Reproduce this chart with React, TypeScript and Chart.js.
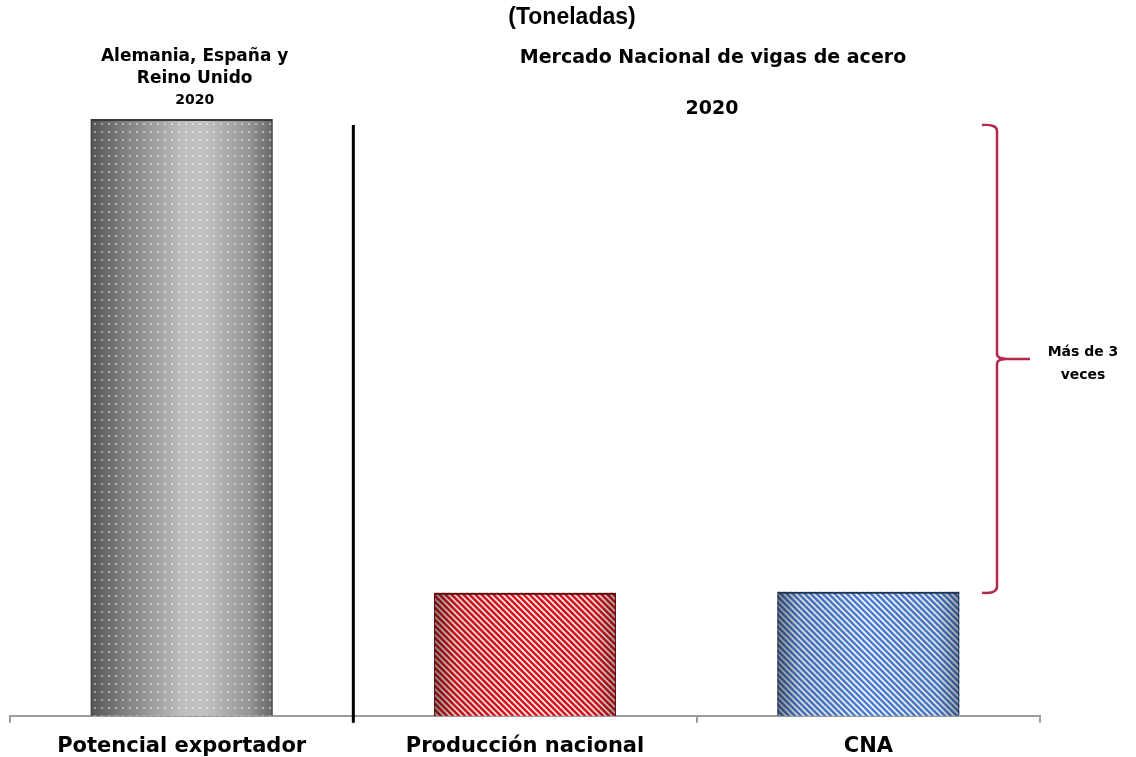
import React, { useEffect, useRef } from "react";
import { Chart, registerables } from "chart.js";

Chart.register(...registerables);

const categories = ["Potencial exportador", "Producción nacional", "CNA"];
const values = [597, 123, 124];
const unitTitle = "(Toneladas)";
const leftHeader = ["Alemania, España y", "Reino Unido", "2020"];
const rightHeader = ["Mercado Nacional de vigas de acero", "2020"];
const braceLabel = ["Más de 3", "veces"];

const FONT = "'DejaVu Sans', 'Open Sans', sans-serif";

function makeStripePattern(ctx: CanvasRenderingContext2D, r: number, g: number, b: number) {
  const s = 6;
  const c = document.createElement("canvas");
  c.width = s;
  c.height = s;
  const cx = c.getContext("2d")!;
  const img = cx.createImageData(s, s);
  for (let y = 0; y < s; y++) {
    for (let x = 0; x < s; x++) {
      const t = ((x - y) % s + s) % s;
      const w = t < 3 ? 1 : t === 3 || t === 5 ? 0.35 : 0;
      const i = (y * s + x) * 4;
      img.data[i] = Math.round(r * w + 255 * (1 - w));
      img.data[i + 1] = Math.round(g * w + 255 * (1 - w));
      img.data[i + 2] = Math.round(b * w + 255 * (1 - w));
      img.data[i + 3] = 255;
    }
  }
  cx.putImageData(img, 0, 0);
  return ctx.createPattern(c, "repeat")!;
}

function makeDotPattern(ctx: CanvasRenderingContext2D) {
  const c = document.createElement("canvas");
  c.width = 7;
  c.height = 8;
  const cx = c.getContext("2d")!;
  cx.fillStyle = "rgba(255,255,255,0.45)";
  cx.fillRect(3, 3, 2, 2);
  return ctx.createPattern(c, "repeat")!;
}

const barFillPlugin = {
  id: "barFill",
  beforeDatasetsDraw(chart: any) {
    const ctx: CanvasRenderingContext2D = chart.ctx;
    const meta = chart.getDatasetMeta(0);
    meta.data.forEach((bar: any, i: number) => {
      const { x, y, width, base } = bar.getProps(["x", "y", "width", "base"], true);
      const l = x - width / 2;
      const h = base - y;
      ctx.save();
      if (i === 0) {
        const g = ctx.createLinearGradient(l, 0, l + width, 0);
        g.addColorStop(0, "#555555");
        g.addColorStop(0.15, "#787878");
        g.addColorStop(0.5, "#bdbdbd");
        g.addColorStop(0.62, "#c2c2c2");
        g.addColorStop(0.88, "#939393");
        g.addColorStop(1, "#666666");
        ctx.fillStyle = g;
        ctx.fillRect(l, y, width, h);
        ctx.fillStyle = makeDotPattern(ctx);
        ctx.fillRect(l, y, width, h);
      } else {
        const pat = i === 1 ? makeStripePattern(ctx, 226, 20, 30) : makeStripePattern(ctx, 80, 130, 210);
        ctx.fillStyle = pat;
        ctx.fillRect(l, y, width, h);
        const g = ctx.createLinearGradient(l, 0, l + width, 0);
        g.addColorStop(0, "rgba(0,0,0,0.45)");
        g.addColorStop(0.12, "rgba(0,0,0,0.12)");
        g.addColorStop(0.5, "rgba(0,0,0,0)");
        g.addColorStop(0.88, "rgba(0,0,0,0.08)");
        g.addColorStop(1, "rgba(0,0,0,0.35)");
        ctx.fillStyle = g;
        ctx.fillRect(l, y, width, h);
      }
      ctx.restore();
    });
  },
};

const annotationsPlugin = {
  id: "annotations",
  afterDraw(chart: any) {
    const ctx: CanvasRenderingContext2D = chart.ctx;
    const xs = chart.scales.x;
    const ys = chart.scales.y;
    const area = chart.chartArea;
    ctx.save();
    ctx.textAlign = "center";
    ctx.textBaseline = "middle";
    ctx.fillStyle = "#000";

    ctx.font = "bold 23px 'Liberation Sans', Arial, sans-serif";
    ctx.fillText(unitTitle, 572, 18);

    const cx0 = xs.getPixelForValue(0);
    ctx.font = `bold 17px ${FONT}`;
    ctx.fillText(leftHeader[0], cx0 + 13, 57);
    ctx.fillText(leftHeader[1], cx0 + 13, 79);
    ctx.font = `bold 14px ${FONT}`;
    ctx.fillText(leftHeader[2], cx0 + 13, 100);

    ctx.font = `bold 19px ${FONT}`;
    ctx.fillText(rightHeader[0], 713, 58);
    ctx.fillText(rightHeader[1], 712, 109);

    // divider
    const dx = xs.getPixelForValue(0.5);
    ctx.strokeStyle = "#000";
    ctx.lineWidth = 3;
    ctx.beginPath();
    ctx.moveTo(dx, area.top + 6);
    ctx.lineTo(dx, area.bottom + 7);
    ctx.stroke();

    // brace
    const top = area.top + 6;
    const bot = ys.getPixelForValue(values[1]);
    const mid = top + (bot - top) / 2;
    const bx = 997;
    ctx.strokeStyle = "#b3294e";
    ctx.lineWidth = 2.5;
    ctx.beginPath();
    ctx.moveTo(982, top);
    ctx.quadraticCurveTo(bx, top - 1, bx, top + 6);
    ctx.lineTo(bx, mid - 4);
    ctx.quadraticCurveTo(bx + 1, mid, bx + 10, mid);
    ctx.lineTo(1030, mid);
    ctx.moveTo(bx + 10, mid);
    ctx.quadraticCurveTo(bx + 1, mid, bx, mid + 4);
    ctx.lineTo(bx, bot - 6);
    ctx.quadraticCurveTo(bx, bot + 1, 982, bot);
    ctx.stroke();

    ctx.fillStyle = "#000";
    ctx.font = `bold 14px ${FONT}`;
    ctx.fillText(braceLabel[0], 1083, mid - 7);
    ctx.fillText(braceLabel[1], 1083, mid + 16);
    ctx.restore();
  },
};

export default function App() {
  const ref = useRef<HTMLCanvasElement>(null);
  useEffect(() => {
    const chart = new Chart(ref.current!, {
      type: "bar",
      data: {
        labels: categories,
        datasets: [
          {
            data: values,
            backgroundColor: "rgba(0,0,0,0)",
            borderColor: ["#3a3a3a", "#5a1010", "#1f3350"],
            borderWidth: { top: 2, left: 1, right: 1, bottom: 0 },
            borderSkipped: "bottom",
            barPercentage: 0.53,
            categoryPercentage: 1,
          },
        ],
      },
      options: {
        animation: false,
        responsive: true,
        maintainAspectRatio: false,
        layout: { padding: { top: 119, left: 10, right: 96, bottom: -13 } },
        plugins: { legend: { display: false }, tooltip: { enabled: false }, title: { display: false } },
        scales: {
          y: { display: false, min: 0, max: values[0] },
          x: {
            border: { display: true, color: "#9c9c9c", width: 2 },
            grid: {
              display: true,
              drawOnChartArea: false,
              drawTicks: true,
              tickLength: 7,
              color: "#9c9c9c",
              lineWidth: 2,
            },
            ticks: {
              color: "#000",
              padding: 11,
              font: { family: FONT, size: 21, weight: "bold" },
            },
          },
        },
      },
      plugins: [barFillPlugin, annotationsPlugin],
    });
    return () => chart.destroy();
  }, []);
  return (
    <div style={{ position: "absolute", left: 0, top: 0, width: 1136, height: 757, background: "#fff" }}>
      <canvas ref={ref} />
    </div>
  );
}
